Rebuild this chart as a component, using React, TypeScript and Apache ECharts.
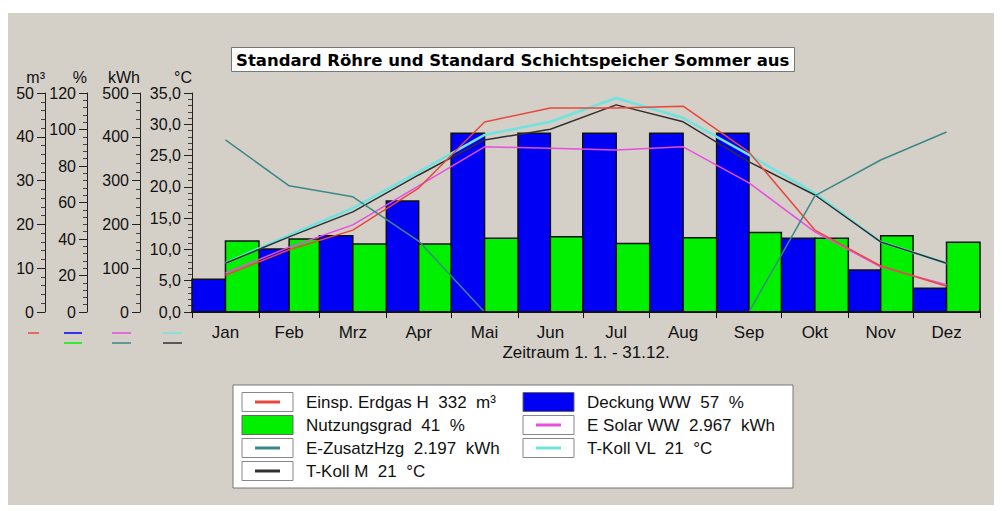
import React, { useEffect, useRef } from 'react';
import * as echarts from 'echarts';

// ---------- data ----------
const months = ['Jan', 'Feb', 'Mrz', 'Apr', 'Mai', 'Jun', 'Jul', 'Aug', 'Sep', 'Okt', 'Nov', 'Dez'];
const monthDays = [31, 28, 31, 30, 31, 30, 31, 31, 30, 31, 30, 31];

// % axis (bars)
const deckungWW = [17.9, 34.5, 41.8, 60.8, 97.9, 97.9, 97.9, 97.9, 97.9, 40.4, 23.0, 13.0];
const nutzungsgrad = [38.9, 40.0, 37.3, 37.3, 40.4, 41.3, 37.6, 40.7, 43.5, 40.4, 41.8, 38.2];
// m³ axis
const erdgas = [8.4, 14.2, 18.7, 28.3, 43.4, 46.6, 46.6, 47.0, 36.5, 18.7, 10.5, 5.9];
// kWh axis
const eSolarWW = [89, 148, 199, 288, 377, 374, 370, 377, 295, 183, 103, 62];
const eZusatzHzg = [393, 288, 263, 162, 0, 0, 0, 0, 0, 265, 347, 411];
// °C axis
const tKollVL = [7.8, 12.3, 16.6, 22.4, 28.3, 30.4, 34.2, 31.0, 25.1, 19.0, 11.2, 7.8];
const tKollM = [7.8, 12.0, 16.0, 21.9, 27.5, 29.2, 33.1, 30.4, 24.0, 18.7, 11.2, 7.8];

const titleText = 'Standard Röhre und Standard Schichtspeicher Sommer aus';
const xAxisTitle = 'Zeitraum 1. 1. - 31.12.';
const axisNames = { m3: 'm³', pct: '%', kwh: 'kWh', temp: '°C' };
const legendLeft = ['Einsp. Erdgas H  332  m³', 'Nutzungsgrad  41  %', 'E-ZusatzHzg  2.197  kWh', 'T-Koll M  21  °C'];
const legendRight = ['Deckung WW  57  %', 'E Solar WW  2.967  kWh', 'T-Koll VL  21  °C'];

// ---------- styles ----------
const FONT = '"Liberation Sans", Arial, Helvetica, sans-serif';
const C = {
  bg: '#d4d0c8',
  red: '#e8483c',
  blue: '#0000f5',
  green: '#00f000',
  magenta: '#e84ee0',
  teal: '#3a8888',
  cyan: '#6ee4e0',
  black: '#303030',
};

const starts: number[] = [];
monthDays.reduce((acc, d) => { starts.push(acc); return acc + d; }, 0);
const totalDays = monthDays.reduce((a, b) => a + b, 0);
const boundaries = [...starts, totalDays];
const centers = starts.map((s, i) => s + monthDays[i] / 2);

function barSeries(name: string, values: number[], color: string, half: 0 | 1) {
  return {
    type: 'custom',
    name,
    xAxisIndex: 0,
    yAxisIndex: 2,
    z: 2,
    data: values.map((v, i) => [starts[i], starts[i] + monthDays[i], v]),
    encode: { x: [0, 1], y: 2 },
    renderItem: (_p: any, api: any) => {
      const s = api.value(0);
      const e = api.value(1);
      const v = api.value(2);
      const m = (s + e) / 2;
      const x0 = half === 0 ? s : m;
      const x1 = half === 0 ? m : e;
      const p0 = api.coord([x0, 0]);
      const p1 = api.coord([x1, v]);
      return {
        type: 'rect',
        shape: { x: p0[0], y: p1[1], width: p1[0] - p0[0], height: p0[1] - p1[1] },
        style: { fill: color, stroke: '#111', lineWidth: 1.5 },
      };
    },
  };
}

function lineSeries(name: string, values: number[], color: string, yAxisIndex: number, width: number, z: number) {
  return {
    type: 'line',
    name,
    xAxisIndex: 0,
    yAxisIndex,
    z,
    symbol: 'none',
    data: values.map((v, i) => [centers[i], v]),
    lineStyle: { color, width },
    itemStyle: { color },
  };
}

function yAxis(name: string, min: number, max: number, interval: number, offset: number, fmt?: (v: number) => string) {
  return {
    type: 'value',
    name,
    nameLocation: 'end',
    nameGap: 8,
    nameTextStyle: { align: 'right', color: '#111', fontSize: 16, fontFamily: FONT },
    min,
    max,
    interval,
    position: 'left',
    offset,
    axisLine: { show: true, onZero: false, lineStyle: { color: '#222', width: 1 } },
    axisTick: { show: true, length: 8, lineStyle: { color: '#222' } },
    minorTick: { show: true, splitNumber: 5, length: 4, lineStyle: { color: '#444' } },
    axisLabel: { color: '#111', fontSize: 16, fontFamily: FONT, margin: 11, formatter: fmt },
    splitLine: { show: false },
    minorSplitLine: { show: false },
  };
}

function legendGraphics() {
  const children: any[] = [];
  const boxX = 233, boxY = 385, boxW = 560, boxH = 103;
  children.push({ type: 'rect', shape: { x: boxX, y: boxY, width: boxW, height: boxH }, style: { fill: '#fff', stroke: '#777', lineWidth: 1 } });
  const rowY = [402, 425, 448, 471];
  const swW = 51, swH = 19;
  const leftSw = 242, rightSw = 523;
  const leftTx = 306, rightTx = 587;
  const lineSwatch = (x: number, y: number, color: string) => [
    { type: 'rect', shape: { x, y: y - swH / 2, width: swW, height: swH }, style: { fill: '#fff', stroke: '#888', lineWidth: 1 } },
    { type: 'line', shape: { x1: x + 13, y1: y, x2: x + swW - 13, y2: y }, style: { stroke: color, lineWidth: 3 } },
  ];
  const fillSwatch = (x: number, y: number, color: string) => [
    { type: 'rect', shape: { x, y: y - swH / 2, width: swW, height: swH }, style: { fill: color, stroke: '#666', lineWidth: 1 } },
  ];
  const leftKinds: [string, 'line' | 'fill'][] = [[C.red, 'line'], [C.green, 'fill'], [C.teal, 'line'], [C.black, 'line']];
  const rightKinds: [string, 'line' | 'fill'][] = [[C.blue, 'fill'], [C.magenta, 'line'], [C.cyan, 'line']];
  legendLeft.forEach((t, i) => {
    const [col, kind] = leftKinds[i];
    children.push(...(kind === 'line' ? lineSwatch(leftSw, rowY[i], col) : fillSwatch(leftSw, rowY[i], col)));
    children.push({ type: 'text', x: leftTx, y: rowY[i], style: { text: t, fill: '#111', font: `17px ${FONT}`, verticalAlign: 'middle', align: 'left' } });
  });
  legendRight.forEach((t, i) => {
    const [col, kind] = rightKinds[i];
    children.push(...(kind === 'line' ? lineSwatch(rightSw, rowY[i], col) : fillSwatch(rightSw, rowY[i], col)));
    children.push({ type: 'text', x: rightTx, y: rowY[i], style: { text: t, fill: '#111', font: `17px ${FONT}`, verticalAlign: 'middle', align: 'left' } });
  });
  return children;
}

function axisDashes() {
  const d = (x1: number, x2: number, y: number, color: string) => ({
    type: 'line', shape: { x1, y1: y, x2, y2: y }, style: { stroke: color, lineWidth: 2, opacity: 0.75 },
  });
  return [
    d(28, 39, 333, C.red),
    d(64, 82, 333, C.blue),
    d(64, 82, 343, C.green),
    d(112, 131, 333, C.magenta),
    d(112, 131, 343, C.teal),
    d(163, 182, 333, C.cyan),
    d(163, 182, 343, C.black),
  ];
}

export default function App() {
  const ref = useRef<HTMLDivElement>(null);
  useEffect(() => {
    document.body.style.margin = '0';
    if (!ref.current) return;
    const chart = echarts.init(ref.current, undefined, { renderer: 'svg' });
    const option: any = {
      animation: false,
      backgroundColor: '#ffffff',
      title: {
        text: titleText,
        left: 231,
        top: 47,
        padding: [3, 5, 2, 5],
        backgroundColor: '#ffffff',
        borderColor: '#777',
        borderWidth: 1,
        textStyle: { fontFamily: '"DejaVu Sans", Verdana, sans-serif', fontWeight: 'bold', fontSize: 16.5, color: '#000', lineHeight: 20 },
      },
      grid: { left: 192, right: 22, top: 93, bottom: 199 },
      xAxis: [
        {
          type: 'value', min: 0, max: totalDays, position: 'bottom', z: 10,
          axisLine: { show: true, onZero: false, lineStyle: { color: '#111', width: 2 } },
          axisTick: { show: true, customValues: boundaries, length: 6, lineStyle: { color: '#111' } },
          axisLabel: { show: false },
          splitLine: { show: false },
        },
        {
          type: 'value', min: 0, max: totalDays, position: 'bottom',
          axisLine: { show: false, onZero: false },
          axisTick: { show: false },
          axisLabel: {
            show: true,
            customValues: centers,
            margin: 12,
            fontSize: 17,
            fontFamily: FONT,
            color: '#111',
            formatter: (v: number) => {
              let best = 0;
              centers.forEach((c, i) => { if (Math.abs(c - v) < Math.abs(centers[best] - v)) best = i; });
              return months[best];
            },
          },
          splitLine: { show: false },
          name: xAxisTitle,
          nameLocation: 'middle',
          nameGap: 32,
          nameTextStyle: { fontSize: 17, fontFamily: FONT, color: '#111' },
        },
      ],
      yAxis: [
        yAxis(axisNames.temp, 0, 35, 5, 0, (v: number) => v.toFixed(1).replace('.', ',')),
        yAxis(axisNames.kwh, 0, 500, 100, 52),
        yAxis(axisNames.pct, 0, 120, 20, 105),
        yAxis(axisNames.m3, 0, 50, 10, 147),
      ],
      graphic: [
        { type: 'rect', z: -10, silent: true, shape: { x: 8, y: 13, width: 986, height: 492 }, style: { fill: C.bg } },
        ...axisDashes(),
        ...legendGraphics(),
      ],
      series: [
        barSeries('Deckung WW', deckungWW, C.blue, 0),
        barSeries('Nutzungsgrad', nutzungsgrad, C.green, 1),
        lineSeries('E-ZusatzHzg', eZusatzHzg, C.teal, 1, 1.5, 6),
        lineSeries('E Solar WW', eSolarWW, C.magenta, 1, 1.5, 4),
        lineSeries('Einsp. Erdgas H', erdgas, C.red, 3, 1.5, 5),
        lineSeries('T-Koll VL', tKollVL, C.cyan, 0, 2.5, 3),
        lineSeries('T-Koll M', tKollM, C.black, 0, 1.5, 4),
      ],
    };
    chart.setOption(option);
    return () => chart.dispose();
  }, []);
  return <div ref={ref} style={{ width: 1002, height: 511 }} />;
}
